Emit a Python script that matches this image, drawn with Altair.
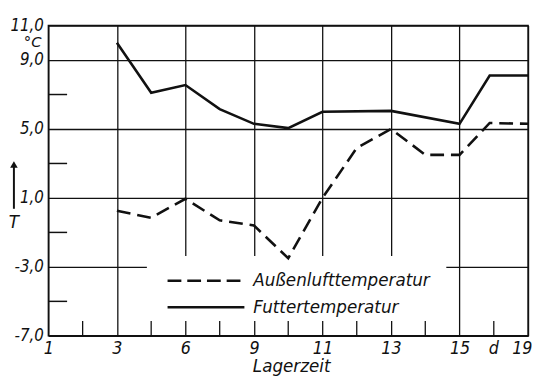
import json
import altair as alt
import pandas as pd

# ---- data ----
x_labels = ["1", "3", "6", "9", "11", "13", "15", "19"]
x_unit = "d"
y_ticks = [11, 9, 5, 1, -3, -7]
y_minor = [7, 3, -1, -5]
x_minor = [0.5, 1.5, 2.5, 3.5, 4.5, 5.5, 6.5]

fut_x = [1, 1.5, 2, 2.5, 3, 3.5, 4, 5, 6, 6.44, 7]
fut_y = [10.0, 7.1, 7.55, 6.15, 5.3, 5.05, 6.0, 6.05, 5.3, 8.1, 8.1]
aus_x = [1, 1.5, 2, 2.5, 3, 3.5, 4, 4.5, 5, 5.5, 6, 6.44, 7]
aus_y = [0.25, -0.15, 0.95, -0.3, -0.6, -2.5, 1.0, 3.9, 5.0, 3.5, 3.5, 5.35, 5.3]

series_names = ["Außenlufttemperatur", "Futtertemperatur"]
x_title = "Lagerzeit"
y_unit = "°C"
y_symbol = "T"

# ---- styling ----
INK = "#111111"
NUM_FONT = "DejaVu Sans Condensed"
TXT_FONT = "DejaVu Sans"

xs = alt.Scale(domain=[0, 7], nice=False, zero=False)
ys = alt.Scale(domain=[-7, 11], nice=False, zero=False)

last_x = len(x_labels) - 1
x_axis = alt.Axis(
    values=list(range(len(x_labels))),
    labelExpr=json.dumps(x_labels) + "[datum.value]",
    labelAlign={"condition": {"test": f"datum.value == {last_x}", "value": "right"}, "value": "center"},
    labelOffset={"condition": {"test": f"datum.value == {last_x}", "value": 4}, "value": 0},
    grid=True, gridColor=INK, gridWidth=1.3, gridOpacity=1,
    ticks=False, domain=False,
    labelFont=NUM_FONT, labelFontSize=18, labelFontStyle="italic",
    labelColor=INK, labelPadding=4, labelFlush=False, labelOverlap=False,
    title=None,
)
y_axis = alt.Axis(
    values=y_ticks,
    labelExpr="replace(replace(format(datum.value, '.1f'), '.', ','), '\u2212', '-')",
    grid=True, gridColor=INK, gridWidth=1.3, gridOpacity=1,
    ticks=False, domain=False,
    labelFont=NUM_FONT, labelFontSize=17, labelFontStyle="italic",
    labelColor=INK, labelPadding=5, labelOverlap=False,
    title=None,
)


def X(field="x"):
    return alt.X(f"{field}:Q", scale=xs, axis=x_axis)


def Y(field="y"):
    return alt.Y(f"{field}:Q", scale=ys, axis=y_axis)


one = pd.DataFrame({"a": [0]})

fut = pd.DataFrame({"x": fut_x, "y": fut_y})
aus = pd.DataFrame({"x": aus_x, "y": aus_y})

# white box behind the legend that interrupts the grid
box = alt.Chart(one).mark_rect(color="white").encode(
    x=alt.value(100), x2=alt.value(404), y=alt.value(234), y2=alt.value(300)
)

left_minor = alt.Chart(pd.DataFrame({"y": y_minor})).mark_rule(
    color=INK, strokeWidth=1.5
).encode(y=Y(), x=alt.value(0), x2=alt.value(19))

bottom_minor = alt.Chart(pd.DataFrame({"x": x_minor})).mark_rule(
    color=INK, strokeWidth=1.3
).encode(x=X(), y=alt.value(300), y2=alt.value(315))

line_fut = alt.Chart(fut).mark_line(color=INK, strokeWidth=2.6).encode(x=X(), y=Y())
line_aus = alt.Chart(aus).mark_line(
    color=INK, strokeWidth=2.6, strokeDash=[14, 7]
).encode(x=X(), y=Y())

leg_dash = alt.Chart(one).mark_rule(color=INK, strokeWidth=2.6, strokeDash=[14, 6]).encode(
    x=alt.value(121), x2=alt.value(199), y=alt.value(259)
)
leg_solid = alt.Chart(one).mark_rule(color=INK, strokeWidth=2.6).encode(
    x=alt.value(121), x2=alt.value(199), y=alt.value(286)
)
txt_kw = dict(font=TXT_FONT, fontSize=17, fontStyle="italic", color=INK)
leg_t1 = alt.Chart(one).mark_text(align="left", baseline="alphabetic", **txt_kw).encode(
    x=alt.value(208), y=alt.value(264), text=alt.value(series_names[0])
)
leg_t2 = alt.Chart(one).mark_text(align="left", baseline="alphabetic", **txt_kw).encode(
    x=alt.value(208), y=alt.value(292), text=alt.value(series_names[1])
)

d_label = alt.Chart(one).mark_text(
    align="center", baseline="top", font=NUM_FONT, fontSize=18, fontStyle="italic", color=INK
).encode(x=alt.datum(6.5, scale=xs), y=alt.value(319), text=alt.value(x_unit))

title_x = alt.Chart(one).mark_text(align="center", baseline="alphabetic", **txt_kw).encode(
    x=alt.value(247), y=alt.value(352), text=alt.value(x_title)
)
unit_y = alt.Chart(one).mark_text(
    align="right", baseline="middle", font=TXT_FONT, fontSize=15, fontStyle="italic", color=INK
).encode(x=alt.value(-7), y=alt.value(16.5), text=alt.value(y_unit))
sym_y = alt.Chart(one).mark_text(align="center", baseline="middle", **txt_kw).encode(
    x=alt.value(-35), y=alt.value(201), text=alt.value(y_symbol)
)
arrow_shaft = alt.Chart(one).mark_rule(color=INK, strokeWidth=2).encode(
    x=alt.value(-35), y=alt.value(142), y2=alt.value(186)
)
arrow_head = alt.Chart(one).mark_point(
    shape="triangle-up", filled=True, color=INK, size=60, opacity=1
).encode(x=alt.value(-35), y=alt.value(141))

chart = alt.layer(
    box, left_minor, bottom_minor, line_aus, line_fut,
    leg_dash, leg_solid, leg_t1, leg_t2, d_label, title_x, unit_y, sym_y,
    arrow_shaft, arrow_head,
).properties(
    width=487, height=315,
    autosize=alt.AutoSizeParams(type="none"),
    padding={"left": 41, "top": 15, "right": 4, "bottom": 42},
    background="white",
).configure_view(stroke=INK, strokeWidth=1.5)

chart.save("out.html", embed_options={"renderer": "svg", "actions": False})
